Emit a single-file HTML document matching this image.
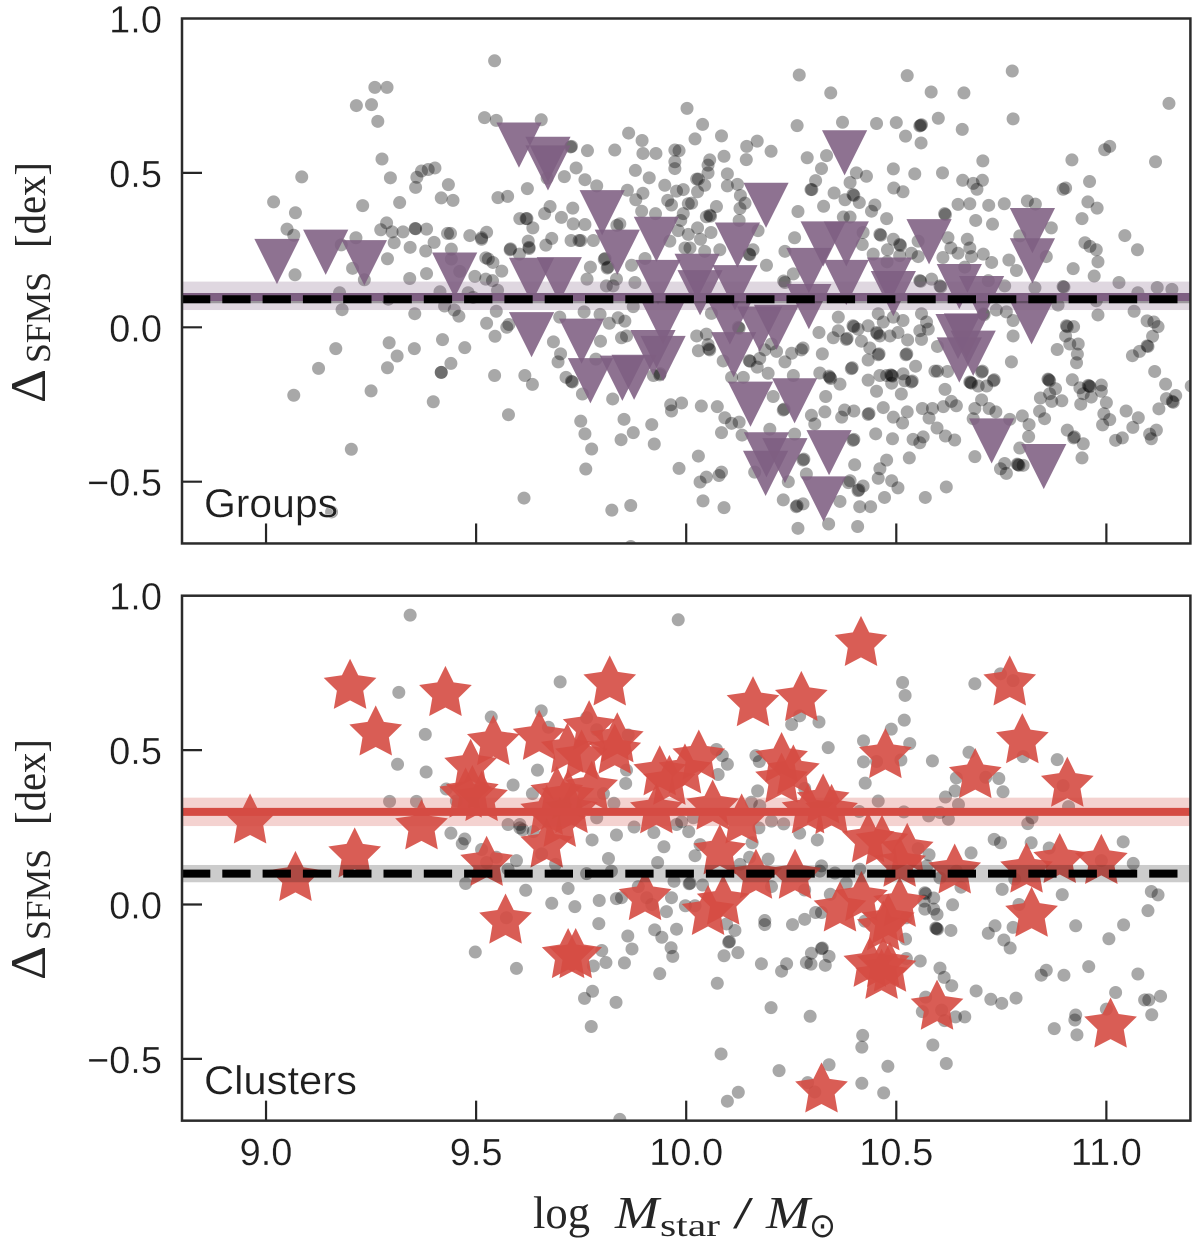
<!DOCTYPE html>
<html lang="en">
<head>
<meta charset="utf-8">
<title>SFMS offset versus stellar mass for groups and clusters</title>
<style>
html,body{margin:0;padding:0;background:#fff;}
svg{display:block;}
.sans{font-family:"Liberation Sans",sans-serif;fill:#1f1f1f;stroke:#fff;stroke-width:.3px;}
.serif{font-family:"Liberation Serif",serif;fill:#262626;}
</style>
</head>
<body>
<svg id="figure" xmlns="http://www.w3.org/2000/svg" width="1200" height="1245" viewBox="0 0 1200 1245">
  <defs>
    <clipPath id="clip-groups"><rect x="182" y="18.5" width="1008.4" height="525"/></clipPath>
    <clipPath id="clip-clusters"><rect x="182" y="595.7" width="1008.4" height="525"/></clipPath>
  </defs>
  <g id="panel-groups"></g>
  <g id="panel-clusters"></g>

  <text class="sans" x="204" y="517" font-size="40" textLength="134" lengthAdjust="spacingAndGlyphs">Groups</text>
  <text class="sans" x="204" y="1094" font-size="40" textLength="153" lengthAdjust="spacingAndGlyphs">Clusters</text>

  <g transform="translate(45,403) rotate(-90)">
    <text class="serif" x="0" y="0" font-size="50" textLength="34" lengthAdjust="spacingAndGlyphs">Δ</text>
    <text class="serif" x="40" y="5" font-size="35" textLength="91" lengthAdjust="spacingAndGlyphs">SFMS</text>
    <text class="serif" x="155" y="0" font-size="43" textLength="86" lengthAdjust="spacingAndGlyphs">[dex]</text>
  </g>
  <g transform="translate(45,980) rotate(-90)">
    <text class="serif" x="0" y="0" font-size="50" textLength="34" lengthAdjust="spacingAndGlyphs">Δ</text>
    <text class="serif" x="40" y="5" font-size="35" textLength="91" lengthAdjust="spacingAndGlyphs">SFMS</text>
    <text class="serif" x="155" y="0" font-size="43" textLength="86" lengthAdjust="spacingAndGlyphs">[dex]</text>
  </g>

  <g>
    <text class="serif" x="533" y="1228" font-size="45" textLength="57" lengthAdjust="spacingAndGlyphs">log</text>
    <text class="serif" x="615" y="1228" font-size="46" font-style="italic" textLength="44" lengthAdjust="spacingAndGlyphs">M</text>
    <text class="serif" x="660" y="1236" font-size="32" textLength="60" lengthAdjust="spacingAndGlyphs">star</text>
    <text class="serif" x="733" y="1228" font-size="46" textLength="20" lengthAdjust="spacingAndGlyphs">/</text>
    <text class="serif" x="766" y="1228" font-size="46" font-style="italic" textLength="44" lengthAdjust="spacingAndGlyphs">M</text>
    <text x="809" y="1237" font-size="34" fill="#262626" style="font-family:'DejaVu Sans',sans-serif" textLength="27" lengthAdjust="spacingAndGlyphs">⊙</text>
  </g>
</svg>

<script>
const xTickValues = [9, 9.5, 10, 10.5, 11];
const xTickLabels = ['9.0', '9.5', '10.0', '10.5', '11.0'];
const yTickValues = [-0.5, 0, 0.5, 1];
const yTickLabels = ['\u22120.5', '0.0', '0.5', '1.0'];
const xLimits = [8.8, 11.2];
const yLimits = [-0.7, 1.0];

const groupsMean = 0.098;
const groupsBandCentre = 0.102;
const groupsMeanError = 0.046;
const groupsFieldMean = 0.091;
const clustersMean = 0.30;
const clustersMeanError = 0.046;
const clustersFieldMean = 0.10;
const clustersFieldError = 0.028;

const groupsField = [
[9.544,.863],[9.259,.777],[9.288,.777],[9.215,.718],[9.251,.721],[9.266,.667],[9.520,.679],[9.548,.670],[9.276,.545],[9.085,.487],[9.296,.484],[9.402,.516],[9.386,.511],[9.370,.506],[9.359,.486],[9.356,.453],[9.434,.462],[9.417,.419],[9.445,.411],[9.552,.420],[9.575,.424],[9.018,.406],[9.070,.371],[9.230,.394],[9.318,.404],[9.050,.318],[9.066,.298],[9.214,.290],[9.179,.267],[9.287,.338],[9.273,.316],[9.300,.309],[9.326,.309],[9.355,.320],[9.356,.319],[9.382,.318],[9.432,.304],[9.439,.304],[9.485,.297],[9.513,.285],[9.513,.290],[9.525,.308],[9.305,.274],[9.343,.259],[9.400,.275],[9.380,.247],[9.289,.222],[9.206,.191],[9.069,.170],[9.234,.154],[9.342,.158],[9.382,.174],[9.441,.253],[9.441,.221],[9.461,.181],[9.497,.165],[9.523,.156],[9.539,.151],[9.523,.225],[9.529,.221],[9.540,.210],[9.561,.182],[9.582,.254],[9.551,.120],[9.414,.115],[9.481,.112],[9.493,.097],[9.175,.112],[9.291,.091],[9.181,.057],[9.354,.044],[9.425,.069],[9.448,.056],[9.459,.036],[9.548,.052],[9.525,.013],[9.573,.0],[9.578,.009],[9.545,-.029],[9.420,-.040],[9.293,-.050],[9.473,-.066],[9.353,-.069],[9.166,-.069],[9.312,-.093],[9.440,-.117],[9.125,-.133],[9.289,-.131],[9.417,-.146],[9.417,-.146],[9.544,-.156],[9.250,-.206],[9.066,-.220],[9.398,-.241],[9.577,-.283],[9.203,-.395],[9.614,-.553],[9.156,-.598],[9.604,.352],
[9.655,.672],[9.725,.584],[9.727,.586],[9.765,.572],[9.830,.574],[9.863,.629],[9.895,.605],[9.897,.563],[9.928,.563],[9.973,.574],[9.983,.572],[10.002,.709],[10.039,.657],[10.021,.610],[10.084,.620],[10.090,.554],[10.056,.542],[10.052,.525],[10.052,.500],[9.973,.536],[9.973,.514],[9.879,.508],[9.912,.484],[9.738,.516],[9.710,.488],[9.759,.478],[9.622,.449],[9.669,.483],[9.787,.458],[9.860,.444],[9.897,.434],[9.880,.413],[9.949,.460],[9.977,.441],[9.993,.446],[10.029,.480],[10.025,.480],[10.044,.460],[10.027,.439],[10.013,.402],[10.005,.400],[9.956,.411],[9.965,.396],[10.098,.497],[10.098,.458],[10.122,.463],[10.129,.427],[10.144,.586],[10.169,.603],[10.143,.543],[10.202,.570],[10.264,.653],[10.269,.817],[10.344,.759],[10.372,.664],[10.288,.549],[10.334,.556],[10.322,.514],[10.308,.475],[10.297,.446],[10.299,.446],[10.352,.435],[10.266,.375],[10.327,.392],[10.378,.413],[10.374,.357],[9.676,.391],[9.663,.368],[9.703,.356],[9.730,.386],[9.731,.335],[9.759,.333],[9.619,.352],[9.621,.352],[9.635,.322],[9.680,.288],[9.666,.266],[9.726,.281],[9.745,.281],[9.749,.281],[9.779,.281],[9.624,.279],[9.626,.259],[9.626,.255],[9.603,.237],[9.581,.251],[9.842,.335],[9.835,.330],[9.894,.376],[9.927,.368],[9.987,.346],[9.993,.368],[10.005,.301],[10.027,.322],[10.034,.285],[10.056,.363],[10.058,.360],[10.048,.358],[10.072,.391],[10.059,.307],[10.126,.346],[10.128,.385],[10.140,.402],[10.171,.313],[10.080,.251],[10.150,.237],[10.151,.235],[10.159,.251],[10.191,.201],[9.997,.257],[10.009,.257],[10.044,.246],[9.961,.279],[9.981,.313],[9.807,.223],[9.805,.220],[9.814,.195],[9.812,.192],[9.772,.195],[9.764,.156],[9.834,.156],[9.810,.134],[9.826,.134],[9.878,.145],[9.870,.201],[9.902,.223],[10.235,.246],[10.258,.290],[10.255,.173],[10.235,.145],[10.232,.150],[10.362,.033],[9.795,.042],[9.838,.031],[9.854,.020],[9.817,.013],[9.757,.050],[9.699,.033],[9.874,.067],[9.684,-.047],[9.796,-.045],[9.846,-.034],[9.858,-.028],[9.701,-.086],[9.695,-.112],[9.785,-.103],[9.714,-.162],[9.729,-.177],[9.727,-.175],[9.616,-.156],[9.634,-.185],[9.753,-.216],[9.825,-.232],[9.922,-.156],[9.937,-.154],[9.938,-.150],[9.963,-.251],[9.965,-.271],[9.989,-.245],[10.036,-.255],[10.074,-.257],[10.092,-.293],[10.108,-.311],[10.126,-.307],[10.084,-.341],[10.133,-.349],[9.749,-.304],[9.759,-.345],[9.775,-.394],[9.761,-.459],[9.852,-.298],[9.874,-.341],[9.845,-.364],[9.918,-.315],[9.924,-.378],[10.029,-.417],[9.983,-.457],[10.033,-.501],[10.048,-.485],[10.078,-.480],[10.084,-.469],[10.040,-.562],[10.090,-.584],[9.868,-.577],[9.823,-.592],[9.868,-.71],[10.025,-.028],[10.048,-.022],[10.029,-.076],[10.056,-.073],[10.054,-.070],[10.052,-.056],[10.088,-.109],[10.108,-.162],[10.136,-.162],[10.152,-.110],[10.150,-.108],[10.175,-.101],[10.169,-.129],[10.195,-.149],[10.187,-.073],[10.203,-.054],[10.215,-.078],[10.251,-.084],[10.274,-.073],[10.235,-.112],[10.278,-.067],[10.324,-.086],[10.316,-.017],[10.350,-.034],[10.381,-.039],[10.383,-.036],[10.362,-.011],[10.124,.0],[10.126,-.003],[10.060,.045],[10.342,-.162],[10.340,-.158],[10.344,-.166],[10.366,-.184],[10.318,-.148],[10.255,-.156],[10.207,-.224],[10.231,-.268],[10.233,-.265],[10.332,-.224],[10.330,-.274],[10.298,-.285],[10.306,-.313],[10.370,-.291],[10.377,-.268],[10.258,-.346],[10.199,-.330],[10.278,-.430],[10.280,-.427],[10.286,-.475],[10.243,-.500],[10.163,-.469],[10.231,-.559],[10.262,-.581],[10.264,-.578],[10.278,-.572],[10.266,-.651],[10.339,-.637],[10.366,-.564],[10.386,-.503],
[10.526,.815],[10.583,.762],[10.661,.759],[10.776,.830],[11.149,.725],[10.778,.675],[10.453,.660],[10.500,.663],[10.558,.654],[10.556,.652],[10.560,.656],[10.600,.677],[10.657,.641],[10.522,.619],[10.559,.597],[10.706,.539],[10.918,.542],[11.008,.586],[10.996,.575],[11.117,.536],[10.493,.513],[10.544,.497],[10.610,.500],[10.405,.500],[10.429,.489],[10.494,.451],[10.516,.439],[10.658,.476],[10.683,.466],[10.705,.476],[10.692,.447],[10.897,.447],[10.903,.451],[10.960,.472],[10.956,.406],[10.978,.386],[10.942,.352],[10.812,.409],[10.831,.399],[10.757,.400],[10.720,.395],[10.675,.400],[10.647,.398],[10.615,.368],[10.617,.365],[10.689,.346],[10.729,.334],[10.869,.322],[11.044,.297],[11.074,.251],[10.949,.274],[10.961,.262],[10.976,.251],[10.980,.212],[10.921,.190],[10.971,.166],[11.030,.145],[10.897,.132],[10.899,.130],[11.121,.129],[11.156,.123],[11.075,.112],[11.066,.052],[10.980,.040],[10.976,.086],[10.885,.072],[11.097,.021],[11.113,.017],[11.123,.002],[11.110,-.029],[11.099,-.062],[11.097,-.060],[11.079,-.078],[11.062,-.092],[11.115,-.143],[11.141,-.184],[11.165,-.221],[11.143,-.231],[11.159,-.243],[11.157,-.240],[11.125,-.264],[11.202,-.190],[11.047,-.271],[11.076,-.293],[11.063,-.324],[11.119,-.333],[11.103,-.346],[11.107,-.361],[11.038,-.358],[11.022,-.366],[10.905,.005],[10.907,.002],[10.922,.002],[10.903,-.028],[10.913,-.054],[10.933,-.054],[10.931,-.087],[10.929,-.115],[10.883,-.072],[10.919,-.170],[10.937,-.196],[10.959,-.190],[10.957,-.188],[10.961,-.192],[10.988,-.187],[10.988,-.207],[10.945,-.215],[10.964,-.226],[10.939,-.249],[11.000,-.244],[10.994,-.280],[11.008,-.299],[10.991,-.316],[10.863,-.170],[10.861,-.168],[10.865,-.173],[10.879,-.199],[10.865,-.215],[10.843,-.229],[10.870,-.240],[10.894,-.238],[10.841,-.272],[10.853,-.296],[10.800,-.287],[10.816,-.315],[10.815,-.354],[10.907,-.333],[10.922,-.358],[10.924,-.355],[10.945,-.377],[10.942,-.423],[10.794,-.391],[10.790,-.445],[10.788,-.443],[10.792,-.447],[10.802,-.447],[10.758,-.441],[10.748,-.458],[10.762,-.473],[10.687,-.419],[10.774,-.112],[10.778,-.028],[10.778,.022],[10.762,.050],[10.738,.056],[10.727,.210],[10.768,.218],[10.786,.184],[10.830,.128],[10.794,.296],[10.857,.229],[10.707,.237],[10.679,.229],[10.669,.285],[10.675,.257],[10.647,.240],[10.623,.290],[10.630,.257],[10.611,.226],[10.663,.195],[10.584,.156],[10.556,.151],[10.558,.149],[10.604,.134],[10.606,.131],[10.719,.151],[10.758,.134],[10.493,.285],[10.477,.352],[10.449,.396],[10.441,.376],[10.461,.301],[10.463,.298],[10.421,.307],[10.419,.268],[10.445,.237],[10.479,.251],[10.508,.268],[10.510,.265],[10.508,.232],[10.536,.240],[10.552,.229],[10.478,.212],[10.552,.279],[10.412,.404],[10.397,.430],[10.399,.427],[10.390,.469],[10.390,.357],[10.707,.044],[10.709,.041],[10.560,.044],[10.572,.017],[10.556,-.011],[10.576,-.006],[10.516,.022],[10.493,.033],[10.469,.017],[10.457,.044],[10.433,.005],[10.409,-.006],[10.397,.005],[10.399,.002],[10.453,-.017],[10.455,-.020],[10.504,-.017],[10.485,-.028],[10.461,-.028],[10.417,-.045],[10.437,-.067],[10.457,-.089],[10.459,-.086],[10.433,-.106],[10.527,-.041],[10.560,-.039],[10.523,-.089],[10.525,-.086],[10.546,-.126],[10.598,-.062],[10.592,-.142],[10.598,-.142],[10.622,-.143],[10.393,-.134],[10.395,-.131],[10.433,-.171],[10.453,-.207],[10.461,-.156],[10.477,-.156],[10.489,-.156],[10.487,-.154],[10.491,-.158],[10.489,-.181],[10.516,-.151],[10.520,-.173],[10.536,-.177],[10.538,-.174],[10.512,-.216],[10.616,-.201],[10.703,-.145],[10.705,-.142],[10.677,-.179],[10.675,-.177],[10.679,-.181],[10.695,-.190],[10.715,-.190],[10.731,-.173],[10.733,-.170],[10.703,-.235],[10.687,-.263],[10.721,-.263],[10.737,-.274],[10.683,-.296],[10.770,-.298],[10.631,-.240],[10.643,-.254],[10.612,-.257],[10.586,-.263],[10.562,-.263],[10.578,-.294],[10.526,-.274],[10.493,-.291],[10.515,-.310],[10.469,-.260],[10.433,-.282],[10.435,-.279],[10.399,-.271],[10.597,-.326],[10.617,-.352],[10.639,-.365],[10.564,-.355],[10.540,-.363],[10.556,-.374],[10.491,-.361],[10.451,-.345],[10.397,-.366],[10.399,-.363],[10.531,-.423],[10.477,-.430],[10.461,-.458],[10.457,-.489],[10.489,-.497],[10.504,-.520],[10.421,-.514],[10.409,-.529],[10.411,-.526],[10.472,-.551],[10.439,-.581],[10.413,-.581],[10.408,-.645],[10.569,-.551],[10.619,-.517],[10.401,-.445],[10.390,-.497]
];

const groupsMembers = [
[9.026,.213],[9.142,.243],[9.234,.209],[9.449,.169],[9.602,.590],[9.671,.544],[9.671,.516],[9.800,.371],[9.836,.243],[9.929,.285],[9.933,.145],[10.026,.165],[10.033,.112],[10.122,.266],[10.116,.128],[9.632,.152],[9.698,.154],[9.632,-.024],[9.751,-.045],[9.772,-.173],[9.848,-.165],[9.876,-.162],[9.945,.017],[9.921,-.082],[9.945,-.101],[10.104,.017],[10.113,-.089],[10.175,-.006],[10.215,.0],[10.292,.067],[10.190,.395],[10.292,.184],[10.326,.270],[10.381,.270],[10.381,.145],[10.153,-.249],[10.258,-.238],[10.191,-.413],[10.235,-.432],[10.189,-.473],[10.340,-.406],[10.327,-.556],[10.377,.565],[10.578,.277],[10.484,.153],[10.493,.109],[10.650,.132],[10.703,.093],[10.824,.313],[10.824,.215],[10.822,.018],[10.647,-.030],[10.683,-.084],[10.650,-.106],[10.727,-.368],[10.851,-.451],[10.667,-.028]
];

const clustersField = [
[9.343,.937],[9.316,.687],[9.379,.551],[9.313,.454],[9.381,.429],[9.536,.607],[9.294,.334],[9.358,.334],[9.429,.374],[9.453,.335],[9.440,.231],[9.473,.212],[9.467,.197],[9.513,.178],[9.548,.153],[9.525,.136],[9.475,.068],[9.576,.259],[9.604,.248],[9.588,.387],[9.576,.114],[9.596,.142],[9.572,-.043],[9.498,-.154],[9.596,-.207],
[9.981,.922],[9.700,.721],[9.655,.627],[9.672,.574],[9.763,.605],[9.787,.566],[9.862,.549],[9.646,.435],[9.634,.359],[9.858,.435],[9.856,.392],[10.072,.502],[10.086,.482],[10.098,.454],[10.076,.421],[10.166,.482],[10.174,.463],[10.170,.368],[10.282,.376],[10.338,.508],[10.251,.583],[10.270,.611],[10.316,.591],[9.828,.328],[9.803,.359],[9.787,.281],[9.834,.225],[9.776,.209],[9.876,.251],[9.923,.233],[9.947,.187],[9.604,.259],[9.611,.242],[9.636,.236],[9.656,.164],[9.689,.130],[9.815,.149],[9.822,.108],[9.763,.100],[9.932,.136],[9.719,.052],[9.618,.046],[9.680,.004],[9.735,-.007],[9.793,.013],[9.834,.019],[9.846,.022],[9.886,.058],[9.906,.022],[9.918,.0],[9.965,.022],[9.953,-.023],[9.971,.075],[10.009,.069],[10.007,.067],[10.039,.063],[9.998,-.004],[10.021,-.004],[9.792,-.062],[9.925,-.082],[9.942,-.106],[9.977,-.080],[9.861,-.102],[9.871,-.144],[9.853,-.189],[9.809,-.188],[9.799,-.149],[9.779,-.199],[9.964,-.140],[9.968,-.168],[9.937,-.224],[9.777,-.281],[9.758,-.304],[9.833,-.317],[9.774,-.395],[10.096,-.063],[10.116,-.084],[10.101,-.122],[10.103,-.120],[10.090,-.166],[10.123,-.156],[10.074,-.255],[10.179,-.192],[10.239,-.192],[10.227,-.216],[10.187,-.052],[10.187,-.065],[10.253,-.065],[10.282,-.048],[10.308,-.026],[10.322,-.026],[10.298,-.158],[10.322,-.143],[10.324,-.141],[10.340,-.168],[10.286,-.188],[10.297,-.193],[10.331,-.197],[10.202,-.334],[10.295,-.362],[10.083,-.484],[10.221,-.538],[10.340,-.519],[10.289,-.577],[10.306,-.607],[10.124,-.608],[10.098,-.637],[9.842,-.696],[9.977,.259],[9.989,.268],[10.006,.236],[10.017,.281],[10.033,.194],[10.021,.158],[10.155,.331],[10.175,.320],[10.173,.248],[10.157,.200],[10.151,.153],[10.128,.130],[10.195,.147],[10.203,.270],[10.232,.261],[10.270,.231],[10.312,.209],[10.322,.125],[10.318,.108],[10.354,.102],[10.203,.058],[10.282,.047],[10.343,.033],[10.381,.069],
[10.515,.719],[10.521,.677],[10.519,.597],[10.488,.568],[10.532,.521],[10.422,.530],[10.422,.462],[10.511,.468],[10.453,.463],[10.426,.393],[10.586,.465],[10.687,.715],[10.748,.747],[10.778,.725],[10.673,.493],[10.713,.412],[10.744,.408],[10.754,.365],[10.643,.410],[10.640,.368],[10.617,.348],[10.648,.324],[10.604,.298],[10.577,.287],[10.624,.276],[10.518,.300],[10.457,.335],[10.412,.301],[10.802,.479],[10.883,.469],[10.897,.385],[10.910,.317],[10.823,.281],[10.813,.262],[10.733,.211],[10.748,.200],[10.821,.200],[10.864,.183],[11.040,.203],[11.064,.133],[10.988,.142],[10.678,.167],[10.552,.181],[10.578,.161],[10.573,.125],[10.413,.114],[10.604,.086],[10.643,.108],[10.654,.056],[10.782,.082],[10.752,.049],[10.895,.032],[11.107,.042],[11.123,.031],[11.099,-.020],[10.568,.038],[10.570,.035],[10.589,.021],[10.566,.011],[10.568,-.015],[10.589,-.015],[10.597,-.032],[10.634,-.001],[10.792,.0],[10.596,-.078],[10.594,-.076],[10.598,-.080],[10.630,-.084],[10.524,-.043],[10.425,-.054],[10.735,-.069],[10.719,-.093],[10.778,-.074],[10.756,-.115],[10.771,-.141],[10.927,-.069],[11.041,-.066],[11.006,-.111],[10.522,-.112],[10.557,-.183],[10.524,-.175],[10.604,-.206],[10.614,-.236],[10.632,-.263],[10.690,-.280],[10.725,-.307],[10.751,-.320],[10.785,-.303],[10.570,-.300],[10.562,-.347],[10.608,-.342],[10.615,-.376],[10.641,-.364],[10.663,-.364],[10.857,-.213],[10.845,-.229],[10.899,-.229],[10.958,-.201],[11.075,-.225],[11.022,-.285],[11.091,-.309],[11.101,-.309],[11.129,-.297],[11.108,-.357],[11.000,-.339],[10.927,-.358],[10.925,-.374],[10.876,-.402],[10.930,-.422],[10.420,-.424],[10.418,-.462],[10.587,-.455],[10.619,-.515],[10.480,-.524],[10.418,-.579],[10.470,-.610]
];

const clustersMembers = [
[8.962,.270],[9.070,.084],[9.200,.706],[9.211,.160],[9.261,.555],[9.427,.683],[9.370,.251],[9.541,.524],[9.487,.447],[9.475,.354],[9.513,.343],[9.491,.362],[9.525,.133],[9.570,-.054],
[9.818,.717],[9.650,.541],[9.769,.572],[9.717,.499],[9.751,.477],[9.836,.533],[9.830,.496],[9.668,.192],[9.692,.359],[9.719,.348],[9.775,.376],[9.727,.304],[9.668,.298],[9.699,.259],[9.937,.426],[9.960,.395],[9.997,.432],[10.030,.477],[9.929,.303],[10.063,.315],[10.132,.270],[10.080,.170],[10.159,.650],[10.274,.667],[10.227,.469],[10.255,.429],[10.227,.402],[10.290,.303],[10.326,.335],[10.346,.301],[10.166,.091],[10.259,.091],[9.902,.022],[10.088,.007],[10.052,-.026],[9.719,-.166],[9.737,-.166],[10.322,-.601],[10.366,-.015],
[10.416,.845],[10.770,.717],[10.800,.530],[10.474,.482],[10.688,.417],[10.907,.389],[10.810,.111],[10.889,.142],[10.988,.139],[10.639,.108],[10.822,-.032],[10.433,.209],[10.466,.201],[10.526,.175],[10.508,.130],[10.417,.019],[10.508,.0],[10.469,-.076],[10.481,-.054],[10.437,-.194],[10.469,-.194],[10.485,-.210],[10.465,-.233],[10.597,-.333],[11.010,-.391]
];

const svg = document.getElementById('figure');
const NS = 'http://www.w3.org/2000/svg';
const axLeft = 182, axRight = 1190.4;
const pxPerDex = 308.8;
const markerColorGroups = '#7e5f82';
const markerColorClusters = '#d54b43';

function xScale(v) {
  return axLeft + (v - xLimits[0]) / (xLimits[1] - xLimits[0]) * (axRight - axLeft);
}
function yScaleFor(zeroPx) {
  return function (v) { return zeroPx - v * pxPerDex; };
}
function make(tag, attrs, parent) {
  const el = document.createElementNS(NS, tag);
  for (const k in attrs) el.setAttribute(k, attrs[k]);
  parent.appendChild(el);
  return el;
}

function drawPoints(layer, points, y) {
  points.forEach(function (p) {
    const c = make('circle', { cx: xScale(p[0]), cy: y(p[1]), r: 6.5, fill: '#000', 'fill-opacity': 0.34 }, layer);
    
    
  });
}
function drawTriangles(layer, points, y) {
  const half = 22.6;
  points.forEach(function (p) {
    const cx = xScale(p[0]), cy = y(p[1]);
    const d = 'M' + (cx - half) + ' ' + (cy - half) + 'L' + (cx + half) + ' ' + (cy - half) + 'L' + cx + ' ' + (cy + half) + 'Z';
    const t = make('path', { d: d, fill: markerColorGroups, 'fill-opacity': 0.88 }, layer);
    
    
  });
}
function starPath(cx, cy, R) {
  const r = R * 0.5;
  let d = '';
  for (let i = 0; i < 10; i++) {
    const a = -Math.PI / 2 + i * Math.PI / 5;
    const rr = i % 2 ? r : R;
    d += (i ? 'L' : 'M') + (cx + rr * Math.cos(a)).toFixed(2) + ' ' + (cy + rr * Math.sin(a)).toFixed(2);
  }
  return d + 'Z';
}
function drawStars(layer, points, y) {
  points.forEach(function (p) {
    const s = make('path', { d: starPath(xScale(p[0]), y(p[1]), 27.7), fill: markerColorClusters, 'fill-opacity': 0.9 }, layer);
    
    
  });
}
function drawBand(layer, centre, err, colour, alpha, y, name) {
  const top = y(centre + err), bottom = y(centre - err);
  const b = make('rect', { x: axLeft, y: top, width: axRight - axLeft, height: bottom - top, fill: colour, 'fill-opacity': alpha }, layer);
  
  
}
function drawLine(layer, value, colour, alpha, dash, y, name) {
  const attrs = { x1: axLeft, x2: axRight, y1: y(value), y2: y(value), stroke: colour, 'stroke-opacity': alpha, 'stroke-width': 8 };
  if (dash) attrs['stroke-dasharray'] = dash;
  const l = make('line', attrs, layer);
  
  
}
function drawAxes(parent, y, showXLabels) {
  const top = y(yLimits[1]), bottom = y(yLimits[0]);
  xTickValues.forEach(function (v, i) {
    const t = make('line', { x1: xScale(v), x2: xScale(v), y1: bottom, y2: bottom - 20, stroke: '#262626', 'stroke-width': 2.2 }, parent);
    
    
    if (showXLabels) {
      const lab = make('text', { x: xScale(v), y: 1165, 'text-anchor': 'middle', 'font-size': 38, class: 'sans' }, parent);
      lab.textContent = xTickLabels[i];
      
      
    }
  });
  yTickValues.forEach(function (v, i) {
    if (v < 1) {
      const t = make('line', { x1: axLeft, x2: axLeft + 20, y1: y(v), y2: y(v), stroke: '#262626', 'stroke-width': 2.2 }, parent);
      
      
    }
    const lab = make('text', { x: 162, y: y(v) + 14, 'text-anchor': 'end', 'font-size': 38, class: 'sans' }, parent);
    lab.textContent = yTickLabels[i];
    
    
  });
  const frame = make('rect', { x: axLeft, y: top, width: axRight - axLeft, height: bottom - top, fill: 'none', stroke: '#2b2b2b', 'stroke-width': 2.5 }, parent);
  
  
}

// Groups panel
const yGroups = yScaleFor(327.3);
const groupsRoot = document.getElementById('panel-groups');
const groupsPlot = make('g', { 'clip-path': 'url(#clip-groups)' }, groupsRoot);


drawPoints(groupsPlot, groupsField, yGroups);
drawTriangles(groupsPlot, groupsMembers, yGroups);
drawBand(groupsPlot, groupsBandCentre, groupsMeanError, markerColorGroups, 0.25, yGroups, 'groups-mean-band');
drawLine(groupsPlot, groupsFieldMean, '#000', 0.3, null, yGroups, 'groups-field-mean-shadow');
drawLine(groupsPlot, groupsMean, markerColorGroups, 1, null, yGroups, 'groups-mean-line');
drawLine(groupsPlot, groupsFieldMean, '#000', 1, '28.3 12', yGroups, 'groups-field-mean-dashed-line');
drawAxes(groupsRoot, yGroups, false);

// Clusters panel
const yClusters = yScaleFor(904.5);
const clustersRoot = document.getElementById('panel-clusters');
const clustersPlot = make('g', { 'clip-path': 'url(#clip-clusters)' }, clustersRoot);


drawPoints(clustersPlot, clustersField, yClusters);
drawStars(clustersPlot, clustersMembers, yClusters);
drawBand(clustersPlot, clustersFieldMean, clustersFieldError, '#000', 0.2, yClusters, 'clusters-field-mean-band');
drawBand(clustersPlot, clustersMean, clustersMeanError, markerColorClusters, 0.25, yClusters, 'clusters-mean-band');
drawLine(clustersPlot, clustersMean, markerColorClusters, 1, null, yClusters, 'clusters-mean-line');
drawLine(clustersPlot, clustersFieldMean, '#000', 1, '28.3 12', yClusters, 'clusters-field-mean-dashed-line');
drawAxes(clustersRoot, yClusters, true);
</script>
</body>
</html>
